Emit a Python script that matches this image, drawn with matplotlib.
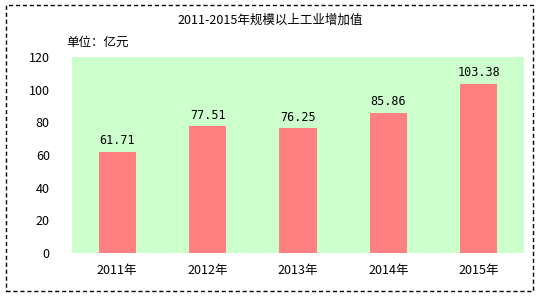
import matplotlib
matplotlib.use('Agg')
import matplotlib.pyplot as plt
from matplotlib.patches import Rectangle

plt.rcParams['font.family'] = ['Noto Sans CJK SC', 'DejaVu Sans']

# 数据
years = ['2011年', '2012年', '2013年', '2014年', '2015年']
values = [61.71, 77.51, 76.25, 85.86, 103.38]
y_ticks = [0, 20, 40, 60, 80, 100, 120]

fig = plt.figure(figsize=(5.4, 2.96), dpi=100)
ax = fig.add_axes([72 / 540, 1 - 253 / 296, 452 / 540, 196 / 296])

# 绿色背景
ax.set_facecolor('#CCFFCC')
ax.bar(range(len(years)), values, width=0.41, color='#FF8080', zorder=2)

# 每根柱子上的数值
for i, v in enumerate(values):
    ax.text(i, v + 3, '%.2f' % v, ha='center', va='bottom', fontsize=8.5,
            family=['DejaVu Sans Mono'])

ax.set_xlim(-0.5, len(years) - 0.5)
ax.set_ylim(0, 120)
ax.set_yticks(y_ticks)
ax.set_xticks(range(len(years)))
ax.set_xticklabels(years, fontsize=9)
ax.tick_params(axis='y', labelsize=9, length=0, pad=16)
ax.tick_params(axis='x', length=0, pad=8)
for s in ax.spines.values():
    s.set_visible(False)

# 标题和单位
fig.text(0.5, 1 - 20 / 296, '2011-2015年规模以上工业增加值', ha='center', va='center', fontsize=9)
fig.text(66 / 540, 1 - 42 / 296, '单位：亿元', ha='left', va='center', fontsize=9)

# 虚线边框
fig.patches.append(Rectangle((6 / 540, 1 - 291 / 296), 527 / 540, 286 / 296,
                             transform=fig.transFigure, fill=False,
                             edgecolor='black', linestyle=(0, (3, 2)), linewidth=1))

plt.savefig('out.png', dpi=100)
